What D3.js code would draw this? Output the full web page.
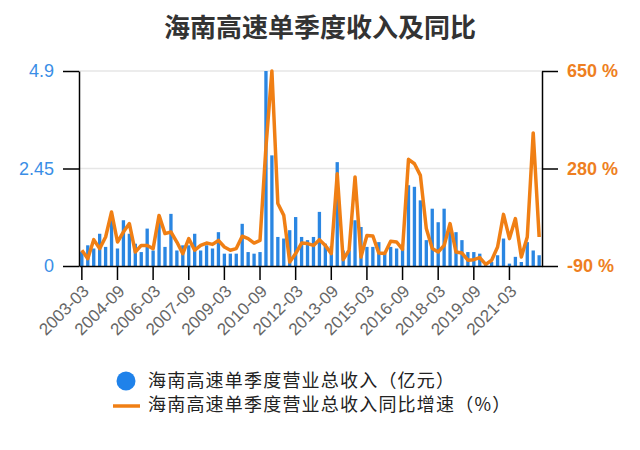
<!DOCTYPE html>
<html>
<head>
<meta charset="utf-8">
<script src="https://cdn.jsdelivr.net/npm/d3@7"></script>
<style>
  body { margin: 0; background: #fff; }
  svg { display: block; }
</style>
</head>
<body>
<script>
// Quarter labels, one line per year
var quarters = [
  "2003-03","2003-06","2003-09","2003-12",
  "2004-03","2004-06","2004-09","2004-12",
  "2005-03","2005-06","2005-09","2005-12",
  "2006-03","2006-06","2006-09","2006-12",
  "2007-03","2007-06","2007-09","2007-12",
  "2008-03","2008-06","2008-09","2008-12",
  "2009-03","2009-06","2009-09","2009-12",
  "2010-03","2010-06","2010-09","2010-12",
  "2011-03","2011-06","2011-09","2011-12",
  "2012-03","2012-06","2012-09","2012-12",
  "2013-03","2013-06","2013-09","2013-12",
  "2014-03","2014-06","2014-09","2014-12",
  "2015-03","2015-06","2015-09","2015-12",
  "2016-03","2016-06","2016-09","2016-12",
  "2017-03","2017-06","2017-09","2017-12",
  "2018-03","2018-06","2018-09","2018-12",
  "2019-03","2019-06","2019-09","2019-12",
  "2020-03","2020-06","2020-09","2020-12",
  "2021-03","2021-06","2021-09","2021-12",
  "2022-03","2022-06"
]

// 单季度营业总收入（亿元）
var revenue = [
  0.35, 0.52, 0.44, 0.81, 0.48, 1.15, 0.44, 1.15, 0.81, 0.56,
  0.35, 0.94, 0.39, 1.15, 0.48, 1.31, 0.39, 0.52, 0.52, 0.81,
  0.39, 0.52, 0.44, 0.85, 0.31, 0.31, 0.31, 1.06, 0.35, 0.31,
  0.35, 4.90, 2.78, 0.73, 0.69, 0.90, 1.23, 0.73, 0.65, 0.73,
  1.36, 0.56, 0.50, 2.61, 0.39, 0.39, 1.15, 0.98, 0.48, 0.48,
  0.60, 0.31, 0.48, 0.44, 0.44, 2.03, 1.99, 1.65, 0.65, 1.44,
  1.10, 1.44, 0.90, 0.85, 0.65, 0.35, 0.35, 0.31, 0.05, 0.10,
  0.27, 0.69, 0.06, 0.23, 0.10, 0.60, 0.39, 0.27
]

// 同比增速（%）
var growth = [
  -30, -62, 10, -24, 20, 115, 1, 39, 71, -37,
  -12, -12, -24, 102, 33, 39, 1, -43, 14, -30,
  -12, -3, -8, 7, -18, -30, -24, 23, 14, -3,
  7, 362, 650, 147, 102, -75, -43, -3, -5, -12,
  10, -12, -43, 260, -66, -30, 248, -56, 26, 24,
  -41, -43, 4, 1, -27, 315, 298, 254, 52, -24,
  -37, -12, 71, -37, -41, -68, -66, -58, -84, -68,
  -18, 106, 14, 90, -56, 20, 415, 20
]

var leftTicks = [0, 2.45, 4.9]
var rightTicks = [-90, 280, 650]

var W = 640, H = 450
var margin = {top: 71, right: 98, bottom: 184, left: 79}
var width = W - margin.left - margin.right
var height = H - margin.top - margin.bottom

var blue = "#2a86e2", orange = "#f07f14"
var numFont = "'Liberation Sans', Arial, sans-serif"
var cjkFont = "'Noto Sans CJK SC', sans-serif"

var svg = d3.select("body").append("svg")
    .attr("width", W)
    .attr("height", H)

svg.append("text")
    .attr("x", 320)
    .attr("y", 37)
    .attr("text-anchor", "middle")
    .attr("font-family", cjkFont)
    .attr("font-size", 26)
    .attr("font-weight", "bold")
    .attr("fill", "#333")
    .text("海南高速单季度收入及同比")

var g = svg.append("g")
    .attr("transform", "translate(" + margin.left + "," + margin.top + ")")

var x = d3.scaleBand().domain(quarters).range([0, width]).paddingInner(0.44).paddingOuter(0.2)
var y = d3.scaleLinear().domain([0, 4.9]).range([height, 0])
var y2 = d3.scaleLinear().domain([-90, 650]).range([height, 0])

// grid lines
g.selectAll(".grid")
    .data(leftTicks.slice(1))
  .enter().append("line")
    .attr("x1", 0).attr("x2", width)
    .attr("y1", d => y(d)).attr("y2", d => y(d))
    .attr("stroke", "#e6e6e6")
    .attr("stroke-width", 1.5)

// bars
g.selectAll("rect")
    .data(revenue)
  .enter().append("rect")
    .attr("x", (d, i) => x(quarters[i]))
    .attr("y", d => y(d))
    .attr("width", x.bandwidth())
    .attr("height", d => height - y(d))
    .attr("fill", blue)

// growth line
var line = d3.line()
    .x((d, i) => x(quarters[i]) + x.bandwidth() / 2)
    .y(d => y2(d))

g.append("path")
    .datum(growth)
    .attr("d", line)
    .attr("fill", "none")
    .attr("stroke", orange)
    .attr("stroke-width", 3.5)
    .attr("stroke-linejoin", "round")

// axes
var xAxis = d3.axisBottom(x)
    .tickValues(quarters.filter((q, i) => i % 6 == 0))
    .tickSize(14)
    .tickSizeOuter(0)

var gx = g.append("g")
    .attr("transform", "translate(0," + height + ")")
    .call(xAxis)
gx.selectAll("text")
    .attr("x", 0).attr("y", 0).attr("dy", "0.35em")
    .attr("text-anchor", "end")
    .attr("transform", "translate(4,22) rotate(-45)")
    .attr("font-family", numFont)
    .attr("font-size", 17)
    .attr("fill", "#666")

var gl = g.append("g")
    .call(d3.axisLeft(y).tickValues(leftTicks).tickFormat(d => d).tickSize(16).tickPadding(9).tickSizeOuter(0))
gl.selectAll("text")
    .attr("font-family", numFont)
    .attr("font-size", 18)
    .attr("fill", "#3a8ee6")

var gr = g.append("g")
    .attr("transform", "translate(" + width + ",0)")
    .call(d3.axisRight(y2).tickValues(rightTicks).tickFormat(d => d + " %").tickSize(16).tickPadding(9).tickSizeOuter(0))
gr.selectAll("text")
    .attr("font-family", numFont)
    .attr("font-size", 18)
    .attr("font-weight", "bold")
    .attr("fill", "#ee7f22")

g.selectAll(".domain, .tick line")
    .attr("stroke", "#000")
    .attr("stroke-width", 1.5)

// legend
var legend = svg.append("g")
    .attr("font-family", cjkFont)
    .attr("font-size", 18)
    .attr("letter-spacing", 1.2)
    .attr("fill", "#222")

legend.append("circle")
    .attr("cx", 126).attr("cy", 381).attr("r", 9.5)
    .attr("fill", "#1f82ea")
legend.append("text")
    .attr("x", 148).attr("y", 381).attr("dy", "0.35em")
    .text("海南高速单季度营业总收入（亿元）")

legend.append("line")
    .attr("x1", 113).attr("x2", 140)
    .attr("y1", 406).attr("y2", 406)
    .attr("stroke", orange)
    .attr("stroke-width", 3.5)
legend.append("text")
    .attr("x", 148).attr("y", 405).attr("dy", "0.35em")
    .text("海南高速单季度营业总收入同比增速（%）")
</script>
</body>
</html>
